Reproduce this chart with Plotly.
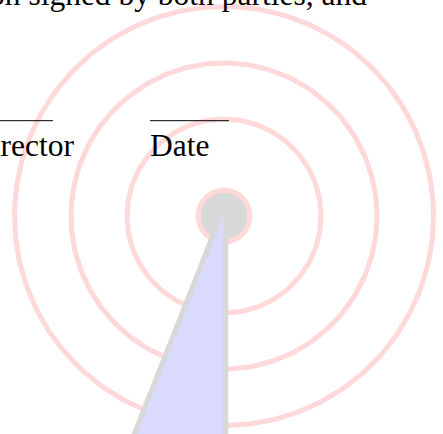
import numpy as np
import plotly.graph_objects as go

# ---- data (pixel-space scene values) ----
center_xy = [224, 216]
ring_radii = [97, 153, 209.5]
hub_radius = [26]
wedge_x = [225.8, 225.8, 120.0]
wedge_y = [203.0, 470.0, 470.0]
rule_x = [[0, 53], [150, 229]]
rule_y = [120.7, 120.7]
text_labels = ["on signed by both parties, and", "Director", "Date"]
text_x = [369, 75.5, 148]
text_y = [0, 145.0, 145.0]
text_shift = [5.5, 0, 0]
text_anchor = ["right", "right", "left"]

PINK = "rgb(255,216,218)"
GRAY = "rgb(216,216,216)"
LAVENDER = "rgb(218,218,255)"

fig = go.Figure()
theta = np.linspace(0, 2 * np.pi, 361)
cx, cy = center_xy

for r in ring_radii:
    fig.add_trace(go.Scatter(x=cx + r * np.cos(theta), y=cy + r * np.sin(theta),
                             mode="lines", line=dict(color=PINK, width=5),
                             hoverinfo="skip", showlegend=False))

for r in hub_radius:
    fig.add_trace(go.Scatter(x=cx + r * np.cos(theta), y=cy + r * np.sin(theta),
                             mode="lines", fill="toself", fillcolor=GRAY,
                             line=dict(color=PINK, width=5),
                             hoverinfo="skip", showlegend=False))

fig.add_trace(go.Scatter(x=wedge_x + [wedge_x[0]], y=wedge_y + [wedge_y[0]],
                         mode="lines", fill="toself", fillcolor=LAVENDER,
                         line=dict(color=GRAY, width=5),
                         hoverinfo="skip", showlegend=False))

for xs, yv in zip(rule_x, rule_y):
    fig.add_trace(go.Scatter(x=xs, y=[yv, yv], mode="lines",
                             line=dict(color="black", width=1),
                             hoverinfo="skip", showlegend=False))

for t, x, y, s, a in zip(text_labels, text_x, text_y, text_shift, text_anchor):
    fig.add_annotation(x=x, y=y, yshift=s, text=t, showarrow=False, xanchor=a,
                       yanchor="middle",
                       font=dict(family="Liberation Serif", size=31.5, color="black"))

fig.update_layout(width=443, height=434, margin=dict(l=0, r=0, t=0, b=0),
                  paper_bgcolor="white", plot_bgcolor="white")
fig.update_xaxes(range=[0, 443], visible=False, fixedrange=True)
fig.update_yaxes(range=[434, 0], visible=False, fixedrange=True)

fig.write_html("out.html", config={"displayModeBar": False},
               post_script="document.body.style.margin='0';document.body.style.overflow='hidden';")
